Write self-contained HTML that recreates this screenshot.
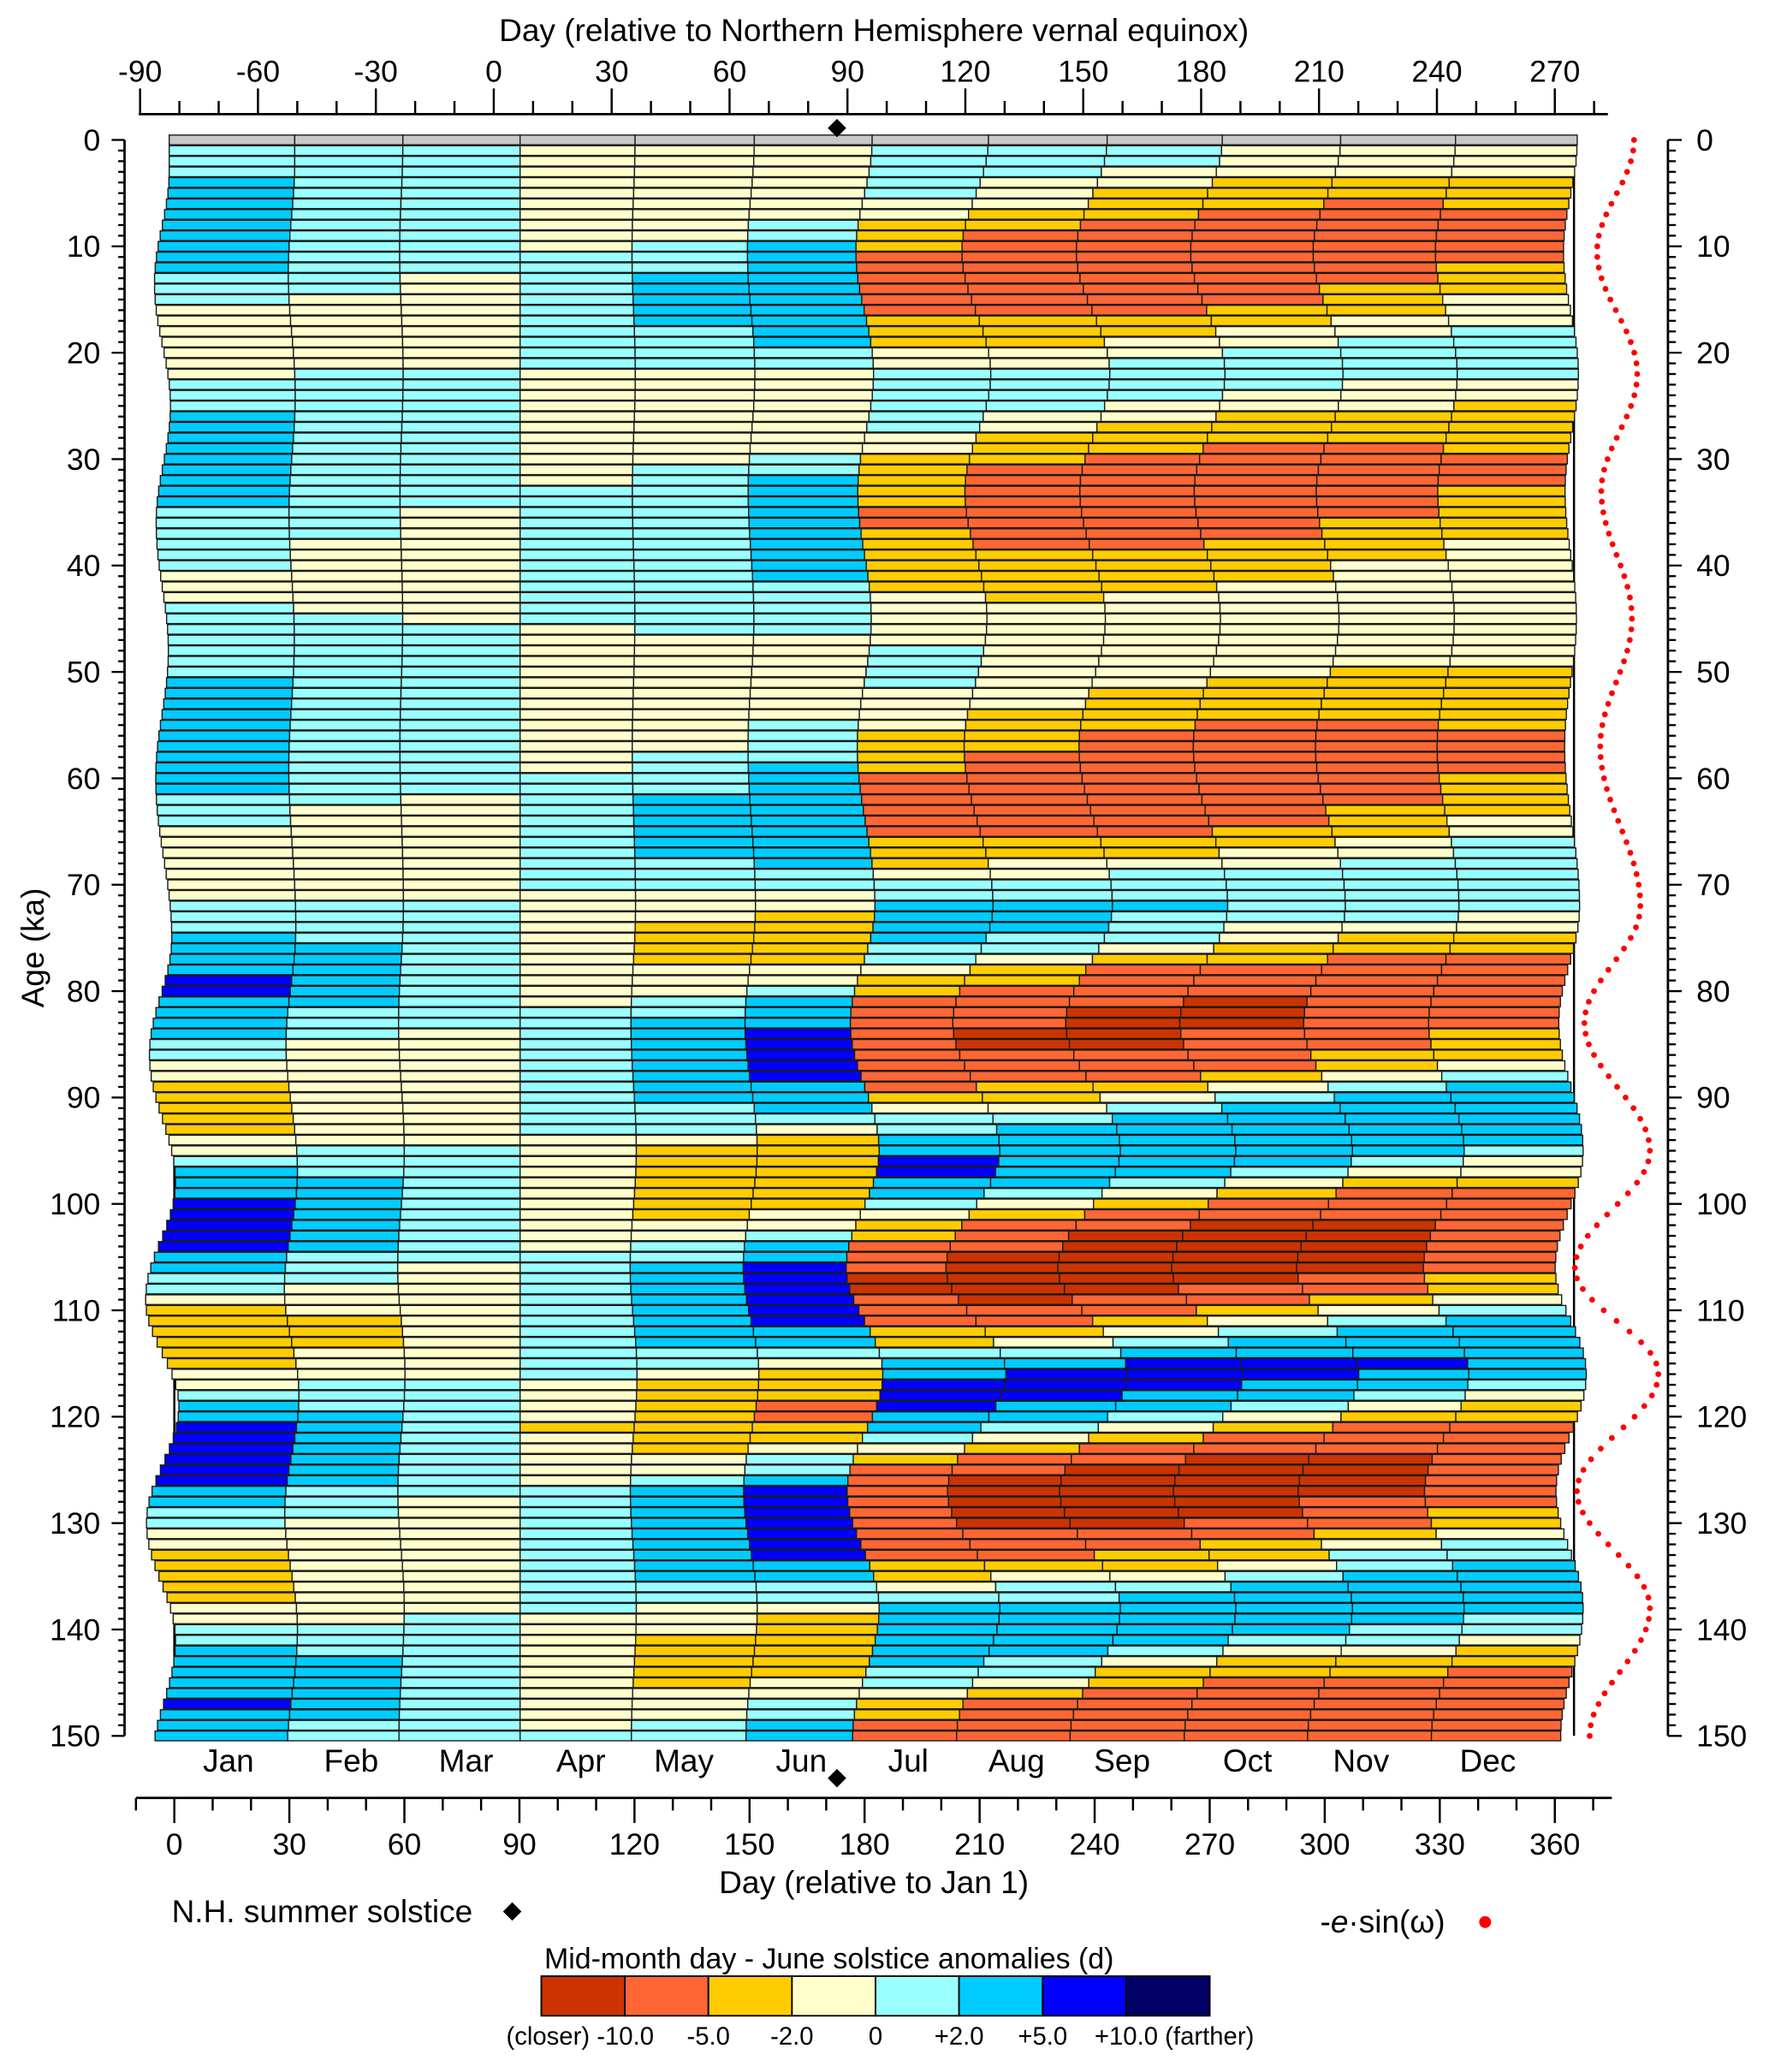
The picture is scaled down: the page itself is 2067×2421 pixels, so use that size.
<!DOCTYPE html>
<html><head><meta charset="utf-8">
<style>
html,body{margin:0;padding:0;background:#fff;}
svg{display:block;font-family:"Liberation Sans",Arial,sans-serif;}
</style></head>
<body>
<svg id="chart" xmlns="http://www.w3.org/2000/svg" width="2067" height="2421" viewBox="0 0 1340 1569.6">
<rect x="0" y="0" width="1340" height="1569.6" fill="#fff"/>
<g id="bars"></g>
<g id="axes"></g>
<g id="dots"></g>
<text x="662" y="31" font-size="24" text-anchor="middle">Day (relative to Northern Hemisphere vernal equinox)</text>
<text x="662" y="1434" font-size="24" text-anchor="middle">Day (relative to Jan 1)</text>
<text transform="translate(33,718) rotate(-90)" font-size="24" text-anchor="middle">Age (ka)</text>
<polygon points="634,90 641,97 634,104 627,97" fill="#000"/>
<polygon points="634,1340 641,1347 634,1354 627,1347" fill="#000"/>
<g>
<text x="130" y="1456" font-size="24">N.H. summer solstice</text>
<polygon points="388,1441 395,1448 388,1455 381,1448" fill="#000"/>
</g>
<g>
<text x="1000" y="1464" font-size="24">-<tspan font-style="italic">e</tspan>·sin(ω)</text>
<circle cx="1125" cy="1456" r="4.5" fill="#ff0000"/>
</g>
<text x="628" y="1491" font-size="22" text-anchor="middle">Mid-month day - June solstice anomalies (d)</text>
<g id="cbar"></g>
</svg>
<script>
const NS="http://www.w3.org/2000/svg";
const esw=[16,15.2,13,9.4,5,-0.2,-5.4,-10.3,-14.3,-17.3,-18.8,-18.8,-17.4,-14.8,-11,-6.4,-1.3,3.9,8.8,12.9,16.2,18.3,19,18.3,16.3,13.1,9.1,4.4,-0.4,-5.1,-9.1,-12.3,-14.3,-15,-14.5,-13.1,-10.8,-7.8,-4.3,-0.5,3.3,6.8,9.8,12.1,13.5,14,13.5,12,9.6,6.5,2.9,-1,-4.9,-8.5,-11.6,-14,-15.5,-16,-15.6,-14.4,-12.4,-9.7,-6.5,-2.9,1,5,8.9,12.5,15.7,18.4,20.4,21.6,22,20.9,17.8,12.9,6.5,-0.7,-8.3,-15.5,-21.9,-26.8,-29.9,-31,-29.9,-26.8,-21.9,-15.5,-8,0,8,15.5,21.9,26.8,29.9,31,29.5,25.4,18.8,10.2,0.5,-9.5,-19.2,-27.8,-34.4,-38.5,-40,-38.1,-32.5,-23.7,-12.7,-0.5,11.7,22.7,31.5,37.1,39,37.4,32.9,25.7,16.5,6,-5,-15.5,-24.7,-31.9,-36.4,-38,-36.6,-32.5,-26.1,-17.8,-8.4,1.4,10.8,19.1,25.5,29.6,31,30,27.2,22.6,16.8,9.9,2.5,-4.9,-11.8,-17.6,-22.2,-25,-26];
const rowClasses=["GGGGGGGGGGGG","CCCLLLCCCLLL","CCCLLLCCCLLL","CCCLLLCCLLLL","SCCLLLCLLYYY","SCCLLLCLYYYY","SCCLLLLLYYOY","SCCLLLLYYOOO","SCCLLCYYOOOO","SCCLLCYOOOOO",
"SCCLCSYOOOOO","SCCCCSOOOOOO","SCCCCSOOOOOY","CCLCSSOOOOOY","CCLCSSOOOOYY","CLLCSSOOOOYL","LLLCSSOOOYYL","LLLCSSYYYYLL","LLLCCSYYYLLC","LLLCCSYYLLCC",
"LLLCCCLLLCCC","LLLCCCLLCCCC","LCCLLLCCCCCC","CCCLLLCCCCLL","CCCLLLCCCLLL","CCCLLLCCLLLY","SCCLLLCLLYYY","SCCLLLCLYYYY","SCCLLLLYYYYY","SCCLLLLYYOOY",
"SCCLLCYYOOOO","SCCLCCYOOOOO","SCCLCSYOOOOO","SCCCCSYOOOOY","SCCCCSYOOOOY","CCLCCSOOOOOY","CCLCCSOOOOYY","CCLCCSYOOOYY","CLLCCSYOOYYL","CLLCCSYYYYYL",
"CLLCCSYYYYLL","LLLCCSYYYYLL","LLLCCCYYYLLL","LLLCCCLYLLLL","CLLCCCLLLLLL","CCLCCCLLLLLL","CCCLCCLLLLLL","CCCLLLLLLLLL","CCCLLLCLLLLL","CCCLLLCLLLLL",
"CCCLLLCLLLYY","SCCLLLCLLYYY","SCCLLLLLYYYY","SCCLLLLLYYYY","SCCLLLLYYYYY","SCCLLCLYYOOY","SCCLLCYYOOOO","SCCLLCYYOOOO","SCCLCCYOOOOO","SCCLCSYOOOOO",
"SCCCCSOOOOOY","SCCCCSOOOOOY","CCLCSSOOOOOY","CLLCSSOOOOYY","CLLCSSOOOOYL","LLLCSSOOOYYL","LLLCSSYYYYLC","LLLCSSYYYLLC","LLLCCSYLLLCC","LLLCCCLLCCCC",
"LLLCCCCCCCCC","LLLLLLCCCCCC","CCCLLLSSSCCC","CCCLLYSSCCCL","CCCLYYSSCLLL","SCCLYYSCCLYY","SSCLYYCCLYYY","SSCLYYCLYYOO","SSCLLLLYOOOO","BSCLLLYYOOOO",
"BSCLLCYOOOOO","SSCLCSOOOROO","SCCCCSOORROO","SCCCSSOORROO","SCLCSBORROOY","CLLCSBORROOY","CLLCSBOOOOYY","LLLCSBOOOOYL","LLLCSBOOOYLC","YLLCSSOYYLCS",
"YLLCSSYYLCSS","YLLCCSLLCSSS","YLLCCCCCSSSS","YLLCCLCSSSSS","LLLLLYSSSSSS","LCCLYYSSSSSC","CCCLYYBSSSCL","SCCLYYBSSCLL","SSCLYYSSCLYY","SSCLYYSCLYOO",
"BSCLYYCLYOOO","BSCLYLLYOOOO","BSCLLLYOORRO","BSCLLCYORRRO","BSCLCSOORRRO","SCCCCSORRRRO","SCLCSBORRRRO","CCLCSBRRRROY","CLLCSBRRROOY","LLLCSBOROOYL",
"YLLCSBOOOYLC","YYLCSBOOYLCS","YYLCSSYYLCSS","YYLCSSYLCSSS","YLLCCCCCSSSS","YLLCCLSSBBBS","LLLCLYSBBBSS","LCCLYYBBBSSC","CCCLYYBBSSCL","SCCLYOBSSCLY",
"SSCLYOSSCLYY","BSCYYYSCLYOO","BSCLYYCLYOOO","BSCLYLLYOOOO","BSCLLCYOORRO","BSCLLCOORRRO","BSCLCSORRRRO","SCCCSBORRRRO","SCLCSBORRROO","CCLCSBORRROY",
"CLLCSBORROOY","LLLCSBOOOOYL","LLLCSBOOOYLC","YLLCSBOOYYCC","YLLCSSYYYLCS","YLLCSSYLLCSS","YLLCCCLCCSSS","YLLCCCCCSSSS","LLLCLLSSSSSS","LLCLLYSSSSSC",
"CCCLLYSSSSCC","CCCLYYSSSCCL","SCCLYYSSCLLY","SSCLYYSCLYYY","SSCLYYCCYYYO","SSCLYLCLYOOO","SSCLLLLYOOOO","BSCLLCYOOOOO","SSCLLCYOOOOO","SCCLCSOOOOOO",
"SCCCCSOOOOOO"];
const months=["Jan","Feb","Mar","Apr","May","Jun","Jul","Aug","Sep","Oct","Nov","Dec"];
const topTicks=[-90,-60,-30,0,30,60,90,120,150,180,210,240,270];
const bottomTicks=[0,30,60,90,120,150,180,210,240,270,300,330,360];
const ageTicks=[0,10,20,30,40,50,60,70,80,90,100,110,120,130,140,150];
const cbarLabels=["(closer) -10.0","-5.0","-2.0","0","+2.0","+5.0","+10.0 (farther)"];
const classKeys=["R","O","Y","L","C","S","B","N"];
const palette={R:"#CC3300",O:"#FF6633",Y:"#FFCC00",L:"#FFFFCC",C:"#99FFFF",S:"#00CCFF",B:"#0000FF",N:"#000066",G:"#C8C8C8"};
const bBase=[-84.3,-51.4,-23.5,6.7,35.6,65.5,94.4,122.8,152.5,181.7,212.3,242.4,274.1];
const bAmp=[0.107,0.047,0.0235,0,0.022,0.05,0.118,0.193,0.224,0.23,0.2,0.146,0.10];
const bLag=[-3,-2,0,0,0,0,0,0,0,0,0,0,0];

const xTop=d=>374+d*2.977;
const xBot=d=>132+d*2.905;
const yAge=a=>106+a*8.06;
const xE=v=>1225+v*0.8;

function mk(tag,attrs,parent,txt){const e=document.createElementNS(NS,tag);for(const k in attrs)e.setAttribute(k,attrs[k]);if(txt!==undefined)e.textContent=txt;parent.appendChild(e);return e;}
const bars=document.getElementById('bars');
const axes=document.getElementById('axes');
const dots=document.getElementById('dots');
const cbar=document.getElementById('cbar');

let vl=mk('line',{x1:xBot(0),x2:xBot(0),y1:yAge(0),y2:yAge(150),stroke:'#000','stroke-width':1.6},bars);


vl=mk('line',{x1:xBot(365),x2:xBot(365),y1:yAge(0),y2:yAge(150),stroke:'#000','stroke-width':1.6},bars);



function bx(k,r){let i=Math.max(0,Math.min(esw.length-1,r+bLag[k]));return xTop(bBase[k]+bAmp[k]*esw[i]);}
const rh=8.06;
for(let r=0;r<rowClasses.length;r++){
  const yc=yAge(r);
  for(let m=0;m<12;m++){
    const x0=bx(m,r),x1=bx(m+1,r);
    const c=rowClasses[r][m];
    const rc=mk('rect',{x:x0.toFixed(2),y:(yc-rh/2+0.35).toFixed(2),width:(x1-x0).toFixed(2),height:(rh-0.7).toFixed(2),fill:palette[c],stroke:'#1a1a1a','stroke-width':0.9},bars);
    
    
  }
}
months.forEach((m,i)=>{
  const cx=[173,266,353,440,518,607,688,770,850,945,1031,1127][i];
  const t=mk('text',{x:cx,y:1342,'font-size':24,'text-anchor':'middle'},axes,m);
  
  
});
let ln=mk('line',{x1:xTop(-90)-1,x2:1218,y1:86.5,y2:86.5,stroke:'#000','stroke-width':1.8},axes);


for(let d=-90;d<=280;d+=10){
  const major=topTicks.includes(d);
  const tk=mk('line',{x1:xTop(d),x2:xTop(d),y1:86.5,y2:major?67:76.5,stroke:'#000','stroke-width':1.6},axes);
  
  
}
topTicks.forEach(d=>{const t=mk('text',{x:xTop(d),y:62,'font-size':23,'text-anchor':'middle'},axes,String(d));
  
  });
ln=mk('line',{x1:xBot(-10),x2:1221,y1:1362,y2:1362,stroke:'#000','stroke-width':1.8},axes);


for(let d=-10;d<=370;d+=10){
  const major=bottomTicks.includes(d);
  const tk=mk('line',{x1:xBot(d),x2:xBot(d),y1:1362,y2:major?1381:1371.5,stroke:'#000','stroke-width':1.6},axes);
  
  
}
bottomTicks.forEach(d=>{const t=mk('text',{x:xBot(d),y:1405,'font-size':23,'text-anchor':'middle'},axes,String(d));
  
  });
ln=mk('line',{x1:94.3,x2:94.3,y1:yAge(0),y2:yAge(150),stroke:'#000','stroke-width':1.8},axes);


ln=mk('line',{x1:1263.5,x2:1263.5,y1:yAge(0),y2:yAge(150),stroke:'#000','stroke-width':1.8},axes);


for(let a=0;a<=150;a++){
  const major=ageTicks.includes(a);
  const y=yAge(a);
  let tk=mk('line',{x1:94.3,x2:major?84.5:89.5,y1:y,y2:y,stroke:'#000','stroke-width':1.5},axes);
  
  
  tk=mk('line',{x1:1263.5,x2:major?1274:1269.5,y1:y,y2:y,stroke:'#000','stroke-width':1.5},axes);
  
  
}
ageTicks.forEach(a=>{
  let t=mk('text',{x:76,y:yAge(a)+8,'font-size':23,'text-anchor':'end'},axes,String(a));
  
  
  t=mk('text',{x:1285,y:yAge(a)+8,'font-size':23,'text-anchor':'start'},axes,String(a));
  
  
});
esw.forEach((v,i)=>{
  const c=mk('circle',{cx:xE(v).toFixed(2),cy:yAge(i).toFixed(2),r:2.2,fill:'#ff0000'},dots);
  
  
});
classKeys.forEach((k,i)=>{
  const x=410+i*63.3;
  const r=mk('rect',{x:x,y:1497,width:63.3,height:30,fill:palette[k],stroke:'#000','stroke-width':1.2},cbar);
  
  
});
cbarLabels.forEach((s,i)=>{
  const x=473.3+i*63.3;
  let anchor='middle',xx=x;
  if(i===0){anchor='end';xx=x+22;}
  if(i===cbarLabels.length-1){anchor='start';xx=x-24;}
  const t=mk('text',{x:xx,y:1549,'font-size':19,'text-anchor':anchor},cbar,s);
  
  
});
</script>
</body></html>
